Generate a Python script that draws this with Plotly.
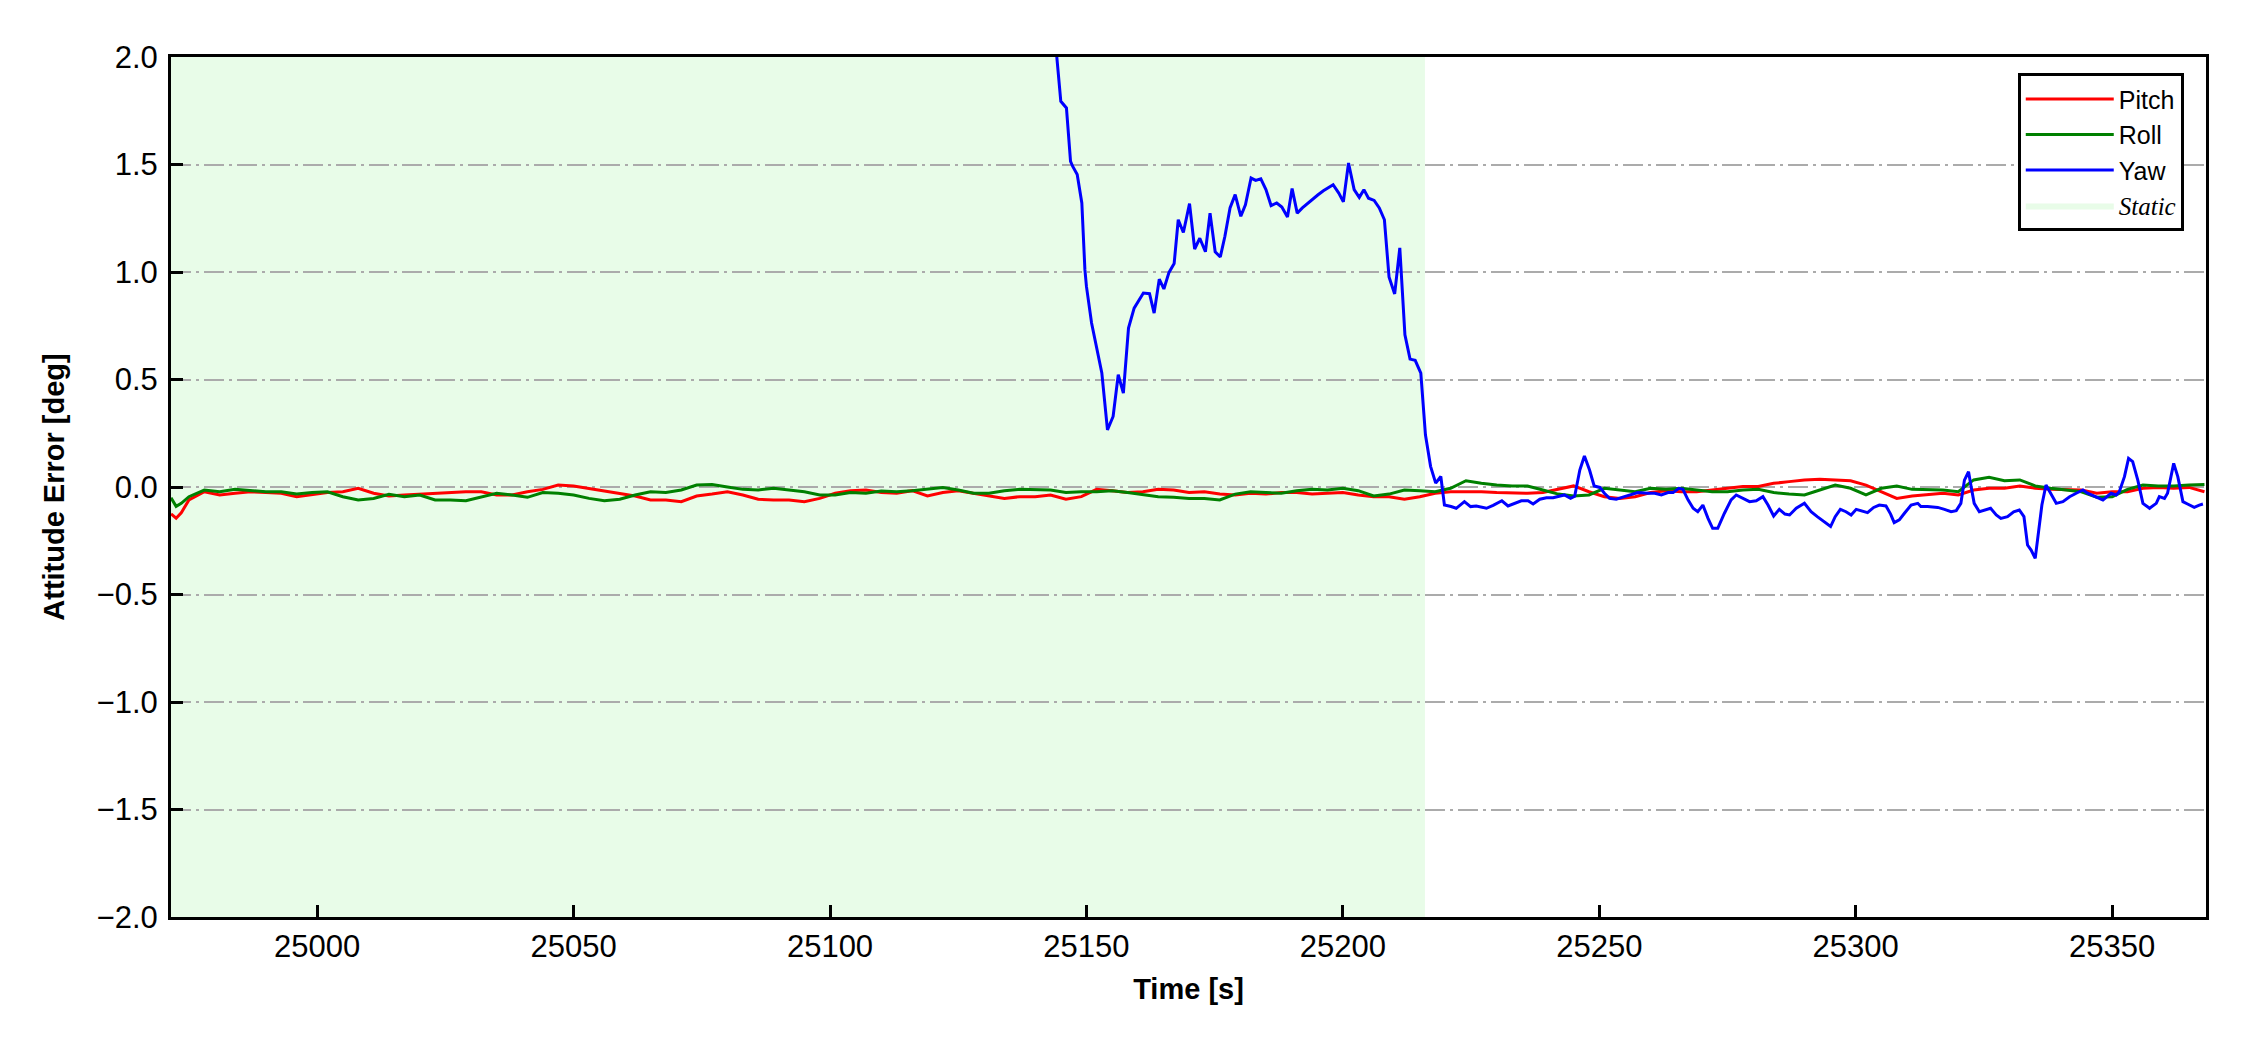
import plotly.graph_objects as go

# ---------------- data ----------------
t_pr = [24971.5, 24972.5, 24973.5] + list(range(24975, 25369, 3))

pitch = [
    -0.125, -0.145, -0.120, -0.060, -0.022, -0.037, -0.029, -0.022, -0.026, -0.029,
    -0.045, -0.037, -0.026, -0.022, -0.006, -0.029, -0.042, -0.037, -0.033, -0.029,
    -0.025, -0.022, -0.022, -0.037, -0.037, -0.022, -0.011, 0.009, 0.005, -0.006,
    -0.017, -0.029, -0.042, -0.060, -0.060, -0.068, -0.042, -0.033, -0.022, -0.037,
    -0.057, -0.060, -0.060, -0.068, -0.053, -0.029, -0.017, -0.014, -0.026, -0.029,
    -0.017, -0.042, -0.026, -0.017, -0.029, -0.042, -0.053, -0.045, -0.045, -0.037,
    -0.057, -0.045, -0.011, -0.017, -0.026, -0.022, -0.011, -0.014, -0.026, -0.022,
    -0.033, -0.037, -0.029, -0.033, -0.026, -0.026, -0.033, -0.029, -0.026, -0.037,
    -0.045, -0.045, -0.057, -0.045, -0.029, -0.022, -0.022, -0.022, -0.026, -0.029,
    -0.029, -0.026, -0.011, 0.005, -0.022, -0.045, -0.053, -0.045, -0.026, -0.017,
    -0.022, -0.022, -0.014, -0.006, 0.002, 0.002, 0.017, 0.025, 0.033, 0.036,
    0.033, 0.029, 0.009, -0.022, -0.053, -0.042, -0.037, -0.029, -0.037, -0.014,
    -0.006, -0.006, 0.005, -0.006, -0.011, -0.014, -0.014, -0.029, -0.022, -0.022,
    -0.006, -0.002, -0.006, -0.002, -0.022,
]

roll = [
    -0.050, -0.090, -0.076, -0.045, -0.014, -0.022, -0.011, -0.017, -0.022, -0.022,
    -0.033, -0.026, -0.022, -0.045, -0.060, -0.053, -0.034, -0.045, -0.037, -0.060,
    -0.060, -0.064, -0.045, -0.029, -0.037, -0.048, -0.026, -0.029, -0.037, -0.053,
    -0.064, -0.057, -0.037, -0.022, -0.026, -0.014, 0.009, 0.012, 0.000, -0.011,
    -0.014, -0.006, -0.014, -0.022, -0.037, -0.037, -0.026, -0.029, -0.019, -0.022,
    -0.017, -0.011, -0.002, -0.014, -0.029, -0.029, -0.017, -0.011, -0.011, -0.014,
    -0.026, -0.022, -0.022, -0.017, -0.026, -0.037, -0.045, -0.048, -0.053, -0.053,
    -0.060, -0.033, -0.022, -0.026, -0.029, -0.017, -0.011, -0.014, -0.006, -0.017,
    -0.042, -0.033, -0.014, -0.017, -0.022, -0.006, 0.029, 0.017, 0.009, 0.005,
    0.005, -0.014, -0.033, -0.042, -0.037, -0.006, -0.014, -0.022, -0.006, -0.011,
    -0.006, -0.014, -0.022, -0.022, -0.014, -0.011, -0.026, -0.033, -0.037, -0.014,
    0.009, -0.006, -0.037, -0.006, 0.005, -0.011, -0.014, -0.014, -0.022, 0.033,
    0.045, 0.029, 0.033, 0.005, -0.006, -0.014, -0.022, -0.048, -0.045, -0.011,
    0.009, 0.005, 0.005, 0.009, 0.012,
]

yaw_time = [
    25143.2, 25144.2, 25145.0, 25146.1, 25146.9, 25147.3, 25148.2, 25149.1, 25149.7, 25150.0,
    25151.0, 25153.0, 25154.1, 25155.2, 25156.2, 25157.2, 25158.2, 25159.3, 25161.1, 25162.3,
    25163.2, 25164.2, 25165.1, 25166.1, 25167.1, 25167.9, 25168.9, 25170.1, 25171.1, 25172.1,
    25173.2, 25174.1, 25175.1, 25176.1, 25177.0, 25178.0, 25179.0, 25180.1, 25181.0, 25182.1,
    25183.0, 25184.0, 25185.0, 25186.0, 25187.1, 25188.1, 25189.2, 25190.1, 25191.1, 25192.1,
    25193.2, 25194.2, 25195.1, 25196.2, 25197.1, 25198.1, 25199.2, 25200.1, 25201.1, 25202.2,
    25203.2, 25204.1, 25205.0, 25206.1, 25207.1, 25208.1, 25209.0, 25210.1, 25211.1, 25212.1,
    25213.1, 25214.1, 25215.2, 25216.1, 25217.1, 25218.1, 25219.1, 25219.8, 25221.1, 25222.1,
    25223.7, 25224.9, 25226.0, 25227.0, 25228.0, 25229.3, 25231.0, 25232.2, 25233.8, 25234.8,
    25236.1, 25237.1, 25238.4, 25239.7, 25241.0, 25242.3, 25243.2, 25244.4, 25245.2, 25246.2,
    25247.1, 25248.1, 25249.0, 25250.1, 25251.0, 25252.0, 25253.3, 25254.9, 25256.6, 25257.5,
    25259.5, 25260.8, 25262.1, 25263.4, 25264.4, 25265.5, 25266.3, 25267.3, 25268.3, 25269.2,
    25270.2, 25271.2, 25272.1, 25273.1, 25274.4, 25275.7, 25276.7, 25278.0, 25279.3, 25280.6,
    25281.9, 25282.9, 25284.0, 25285.1, 25286.2, 25287.1, 25288.4, 25290.0, 25291.3, 25292.5,
    25293.8, 25295.1, 25296.0, 25297.0, 25298.1, 25299.1, 25300.1, 25301.4, 25302.3, 25303.5,
    25304.6, 25305.9, 25306.8, 25307.5, 25308.5, 25309.5, 25310.8, 25312.1, 25312.7, 25314.0,
    25316.0, 25317.3, 25318.6, 25319.6, 25320.5, 25321.2, 25322.0, 25322.5, 25323.1, 25324.1,
    25325.2, 25326.3, 25327.4, 25328.3, 25329.6, 25330.8, 25331.9, 25332.8, 25333.5, 25334.2,
    25335.0, 25335.6, 25336.3, 25337.1, 25338.1, 25339.1, 25340.4, 25341.7, 25343.0, 25344.3,
    25345.2, 25346.5, 25348.2, 25349.8, 25350.8, 25351.4, 25352.4, 25353.2, 25354.0, 25355.0,
    25356.0, 25357.3, 25358.6, 25359.2, 25360.2, 25360.8, 25362.0, 25362.8, 25363.8, 25364.7,
    25366.0, 25367.0, 25367.7,
]

yaw = [
    2.270, 2.003, 1.794, 1.763, 1.515, 1.492, 1.453, 1.321, 1.011, 0.933,
    0.763, 0.530, 0.266, 0.328, 0.522, 0.437, 0.739, 0.832, 0.902, 0.899,
    0.809, 0.967, 0.921, 0.998, 1.039, 1.243, 1.184, 1.318, 1.107, 1.157,
    1.094, 1.274, 1.094, 1.070, 1.166, 1.298, 1.360, 1.259, 1.313, 1.437,
    1.426, 1.433, 1.383, 1.309, 1.321, 1.302, 1.256, 1.388, 1.274, 1.298,
    1.321, 1.340, 1.358, 1.378, 1.391, 1.406, 1.367, 1.326, 1.507, 1.383,
    1.347, 1.383, 1.343, 1.333, 1.298, 1.243, 0.977, 0.898, 1.112, 0.708,
    0.595, 0.589, 0.530, 0.243, 0.096, 0.018, 0.049, -0.084, -0.091, -0.099,
    -0.068, -0.091, -0.088, -0.095, -0.099, -0.085, -0.064, -0.088, -0.073, -0.064,
    -0.064, -0.079, -0.057, -0.050, -0.050, -0.043, -0.037, -0.053, -0.043, 0.079,
    0.144, 0.079, 0.005, -0.002, -0.029, -0.053, -0.057, -0.045, -0.033, -0.026,
    -0.029, -0.029, -0.037, -0.026, -0.026, -0.006, -0.011, -0.060, -0.099, -0.115,
    -0.084, -0.146, -0.192, -0.192, -0.122, -0.060, -0.037, -0.053, -0.068, -0.064,
    -0.045, -0.084, -0.135, -0.104, -0.126, -0.130, -0.099, -0.076, -0.115, -0.138,
    -0.161, -0.184, -0.138, -0.104, -0.115, -0.130, -0.104, -0.115, -0.119, -0.095,
    -0.084, -0.088, -0.126, -0.166, -0.153, -0.122, -0.084, -0.076, -0.091, -0.091,
    -0.095, -0.104, -0.115, -0.110, -0.076, 0.032, 0.071, 0.002, -0.076, -0.115,
    -0.107, -0.099, -0.130, -0.146, -0.138, -0.115, -0.107, -0.138, -0.270, -0.293,
    -0.332, -0.215, -0.084, 0.009, -0.037, -0.076, -0.068, -0.045, -0.029, -0.014,
    -0.029, -0.042, -0.060, -0.029, -0.037, -0.022, 0.048, 0.133, 0.118, 0.032,
    -0.076, -0.099, -0.076, -0.045, -0.053, -0.029, 0.110, 0.048, -0.068, -0.079,
    -0.095, -0.084, -0.079,
]

static_start = 24971.5
static_end = 25216.0

x_range = [24971.5, 25368.3]
y_range = [-2.0, 2.0]
x_ticks = [25000, 25050, 25100, 25150, 25200, 25250, 25300, 25350]
y_ticks = [-2.0, -1.5, -1.0, -0.5, 0.0, 0.5, 1.0, 1.5, 2.0]

# ---------------- figure ----------------
SANS = "Liberation Sans, Arial, sans-serif"
STATIC_FILL = "rgb(232, 252, 232)"

fig = go.Figure()

fig.add_shape(
    type="rect", xref="x", yref="y",
    x0=static_start, x1=static_end, y0=y_range[0], y1=y_range[1],
    fillcolor=STATIC_FILL, line_width=0, layer="below",
)

fig.add_trace(go.Scatter(x=t_pr, y=pitch, mode="lines", name="Pitch",
                         line=dict(color="#ff0000", width=3), legendrank=1))
fig.add_trace(go.Scatter(x=t_pr, y=roll, mode="lines", name="Roll",
                         line=dict(color="#008000", width=3), legendrank=2))
fig.add_trace(go.Scatter(x=yaw_time, y=yaw, mode="lines", name="Yaw",
                         line=dict(color="#0000ff", width=3), legendrank=3))
fig.add_trace(go.Scatter(
    x=[None], y=[None], mode="lines", fill="toself", fillcolor=STATIC_FILL,
    line=dict(width=0, color=STATIC_FILL),
    name="<span style=\"font-family:Liberation Serif\"><i>Static</i></span>",
    legendrank=4,
))

fig.update_layout(
    width=2242, height=1042,
    margin=dict(l=163, r=44, t=49, b=133),
    paper_bgcolor="white", plot_bgcolor="rgba(0,0,0,0)",
    font=dict(family=SANS, color="black", size=31),
    showlegend=True,
    legend=dict(
        x=0.9075, y=0.981, xanchor="left", yanchor="top",
        bgcolor="white", bordercolor="black", borderwidth=3,
        font=dict(family=SANS, size=25, color="black"),
        tracegroupgap=0, itemwidth=88,
    ),
)

fig.update_xaxes(
    range=x_range, tickmode="array", tickvals=x_ticks,
    ticktext=[str(v) for v in x_ticks],
    showgrid=False, zeroline=False,
    showline=True, linecolor="black", linewidth=3, mirror=True,
    ticks="inside", ticklen=12, tickwidth=2.5, tickcolor="black",
    tickfont=dict(family=SANS, size=31),
    title=dict(text="Time [s]", standoff=16,
               font=dict(family=SANS, size=29, weight="bold")),
)

fig.update_yaxes(
    range=y_range, tickmode="array", tickvals=y_ticks,
    ticktext=[("\u2212" if v < 0 else "") + f"{abs(v):.1f}" for v in y_ticks],
    showgrid=True, gridcolor="#ababab", gridwidth=2,
    griddash="20px,5px,3px,5px",
    zeroline=False,
    showline=True, linecolor="black", linewidth=3, mirror=True,
    ticks="inside", ticklen=12, tickwidth=2.5, tickcolor="black",
    ticklabelstandoff=4,
    tickfont=dict(family=SANS, size=31),
    title=dict(text="Attitude Error [deg]", standoff=24,
               font=dict(family=SANS, size=29, weight="bold")),
)

fig.write_html("out.html")
